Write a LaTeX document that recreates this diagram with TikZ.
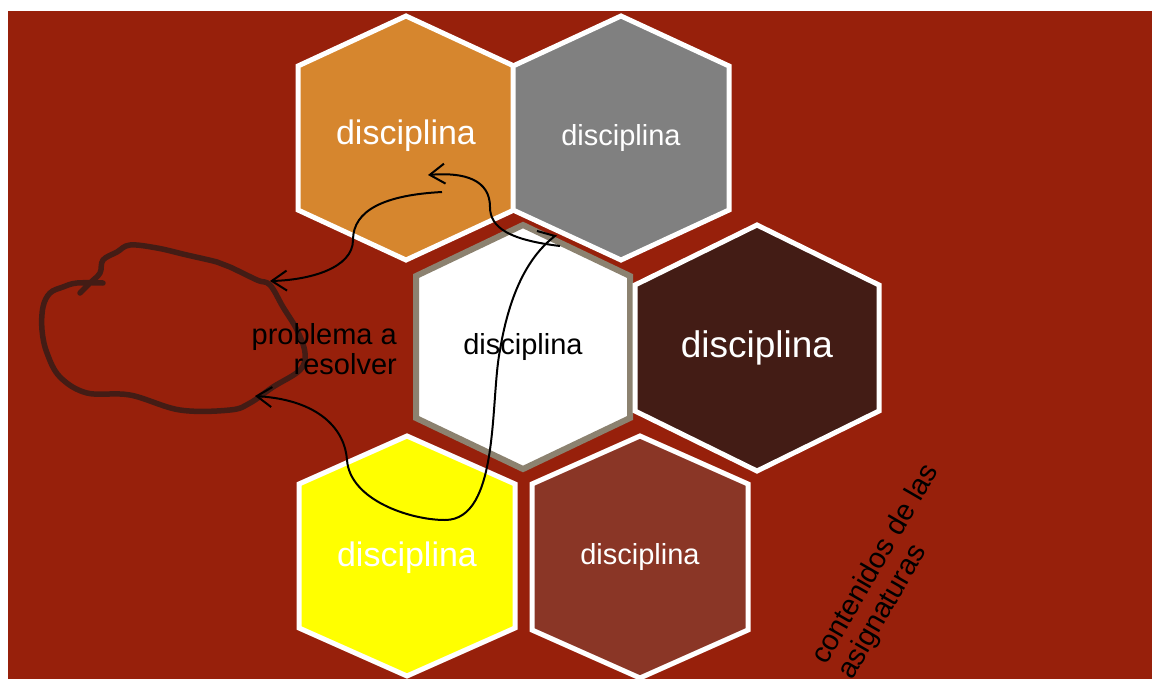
\documentclass[tikz,border=0pt]{standalone}
\usepackage{fontspec}
\setmainfont{Liberation Sans}
\usetikzlibrary{arrows.meta}

\definecolor{bgred}{RGB}{151,32,11}
\definecolor{hexorange}{RGB}{214,134,46}
\definecolor{hexgray}{RGB}{128,128,128}
\definecolor{hextaupe}{RGB}{140,130,112}
\definecolor{hexdark}{RGB}{67,28,21}
\definecolor{hexbrown}{RGB}{138,54,38}
\definecolor{hexyellow}{RGB}{255,255,0}

% hexagon round a centre: #2 centre, #3 half width, #4 half height, #5 rise of the slanted sides
\newcommand{\hexcell}[5][]{\path[#1] (#2) ++(0,-#4) -- ++(#3,#5) -- ++(0,{2*(#4-#5)}) -- ++(-#3,#5) -- ++(-#3,-#5) -- ++(0,{-2*(#4-#5)}) -- cycle;}

\begin{document}
\begin{tikzpicture}[x=1pt, y=-1pt, >={Straight Barb[length=15pt,width=20pt]},
  hex/.style = {draw=white, line width=5pt},
  label/.style = {inner sep=0pt, text=white},
  link/.style = {draw=black, line width=2pt},
  cloud/.style = {draw=hexdark, line width=5.5pt, line cap=round, line join=round}]
  \useasboundingbox (0,0) rectangle (1152,678);
  \fill[bgred] (8,11) rectangle (1153,679);

  % Centres of the hexagons
  \coordinate (h_or) at (406,138);
  \coordinate (h_gr) at (621,138);
  \coordinate (h_wh) at (523,347);
  \coordinate (h_dk) at (757,348);
  \coordinate (h_ye) at (407,556);
  \coordinate (h_br) at (640,557);

  % Hexagons
  \hexcell[hex, fill=hexorange]{h_or}{108}{122}{50}
  \hexcell[hex, fill=hexgray]{h_gr}{108}{122}{50}
  \hexcell[draw=hextaupe, line width=6pt, fill=white]{h_wh}{107}{122}{51}
  \hexcell[hex, fill=hexdark]{h_dk}{122}{123}{60}
  \hexcell[hex, fill=hexyellow]{h_ye}{108}{120}{48}
  \hexcell[hex, fill=hexbrown]{h_br}{108}{121}{48}

  % Texts in the hexagons
  \node[label, font=\fontsize{34}{40}\selectfont] (l_or) at (406,136) {disciplina};
  \node[label, font=\fontsize{29}{34}\selectfont] (l_gr) at (h_gr) {disciplina};
  \node[label, text=black, font=\fontsize{29}{34}\selectfont] (l_wh) at (h_wh) {disciplina};
  \node[label, font=\fontsize{37}{44}\selectfont] (l_dk) at (h_dk) {disciplina};
  \node[label, font=\fontsize{34}{40}\selectfont] (l_ye) at (407,558) {disciplina};
  \node[label, font=\fontsize{29}{34}\selectfont] (l_br) at (h_br) {disciplina};

  % Problem cloud
  \draw[cloud] plot[smooth, tension=0.6] coordinates {(103,283) (77,283) (63,287) (50,293) (43,307)
    (42,330) (47,353) (60,377) (87,393) (130,395) (180,410) (230,410) (250,403) (273,387)
    (300,370) (305,353) (297,330) (283,307) (270,285) (257,280) (230,267) (217,262) (187,255)
    (157,248) (130,245) (117,252) (103,260) (100,273) (90,283) (80,293)};
  \node[inner sep=0pt, align=right, anchor=east, font=\fontsize{29}{30}\selectfont] (problem) at (397,349) {problema a\\resolver};

  % Side text
  \node[inner sep=0pt, align=left, rotate=60, font=\fontsize{29}{30}\selectfont] (contents) at (889,572) {contenidos de las\\asignaturas};

  % Ends of the connectors
  \coordinate (c_or) at (442,192);
  \coordinate (c_gr) at (560,246);
  \coordinate (c_top) at (270,281);
  \coordinate (c_bot) at (255,396);
  \coordinate (c_hook) at (555,236);
  \coordinate (c_tick) at (537,231);

  % Connectors
  \draw[link, ->] (c_or) .. controls (385,195) and (353,210) .. (353,240)
    .. controls (353,268) and (310,280) .. (c_top);
  \draw[link, ->] (c_gr) .. controls (510,240) and (490,228) .. (490,207)
    .. controls (490,180) and (465,172) .. (428,175);
  \draw[link, <-] (c_bot) .. controls (320,400) and (345,430) .. (347,460)
    .. controls (350,500) and (410,520) .. (445,520)
    .. controls (500,520) and (490,400) .. (500,350)
    .. controls (510,290) and (530,255) .. (c_hook) -- (c_tick);

\end{tikzpicture}
\end{document}
